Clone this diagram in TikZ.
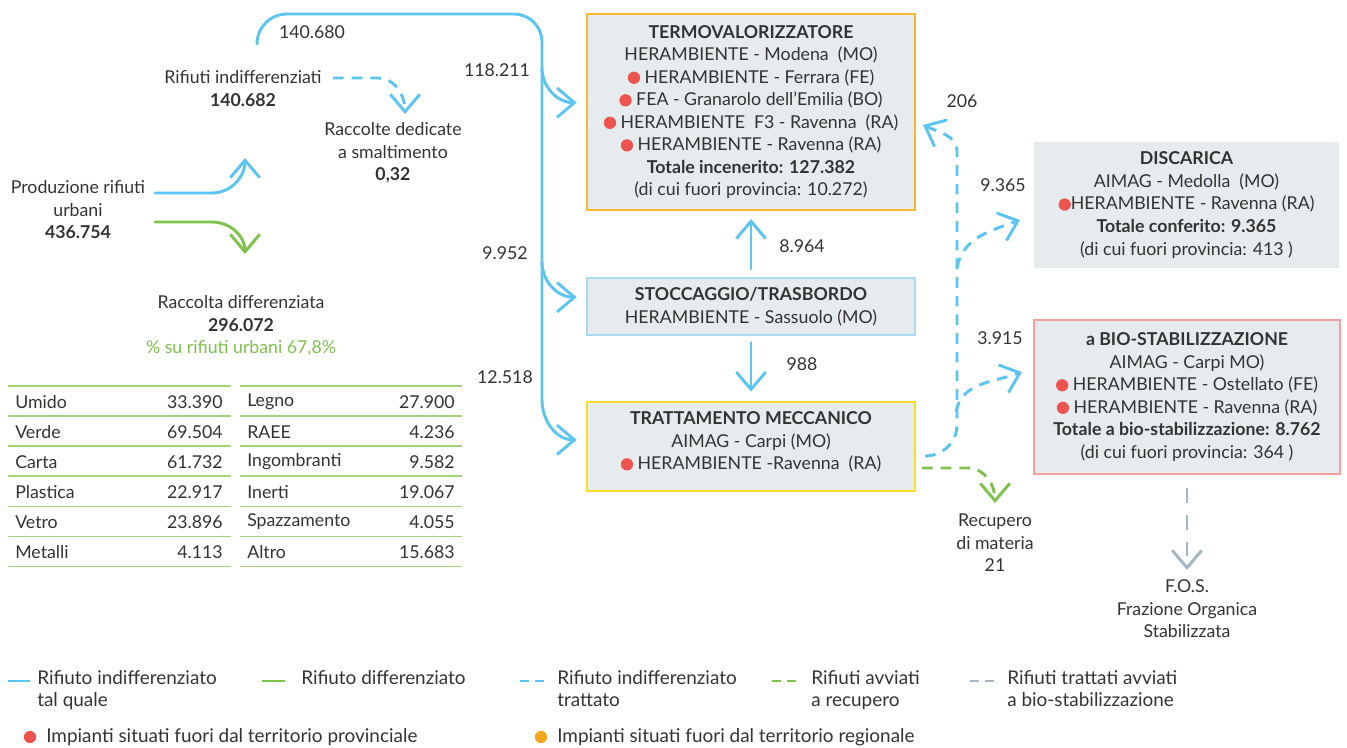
\documentclass[tikz,border=0pt]{standalone}
\usepackage{fontspec}
\setmainfont{Lato}
\usetikzlibrary{arrows.meta}
\definecolor{cblue}{HTML}{5BC5F2}
\definecolor{cgreen}{HTML}{7DC24B}
\definecolor{tgreen}{HTML}{A3D47A}
\definecolor{cgray}{HTML}{A3B6C0}
\definecolor{ink}{HTML}{333333}
\definecolor{boxfill}{HTML}{E6EBEE}
\definecolor{cred}{HTML}{EF5350}
\definecolor{corange}{HTML}{F2A81D}
\definecolor{bterm}{HTML}{F7B733}
\definecolor{bstoc}{HTML}{A8DAF2}
\definecolor{btrat}{HTML}{FDDC2A}
\definecolor{bbio}{HTML}{F4A09C}
\newcommand\fs{\fontsize{13.3}{16.9}\selectfont}
\newcommand\fsl{\fontsize{14.2}{16.9}\selectfont}
\newcommand\rdot{\tikz[baseline=-0.6ex]\fill[cred] (0,0) circle (4.6pt);}
\begin{document}
\begin{tikzpicture}[x=0.75pt,y=-0.75pt,font=\fs,text=ink,
  txt/.style={align=center,inner sep=0pt},
  box/.style={align=center,inner sep=0pt,fill=boxfill,line width=1.5pt},
  bl/.style={draw=cblue,line width=2.2pt,line cap=round},
  gl/.style={draw=cgreen,line width=2.2pt,line cap=round},
  bld/.style={draw=cblue,line width=2.2pt,dash pattern=on 8pt off 6pt},
  gld/.style={draw=cgreen,line width=2.2pt,dash pattern=on 8pt off 6pt},
  gyd/.style={draw=cgray,line width=2.2pt,dash pattern=on 11pt off 9pt},
  arr/.style={-{Straight Barb[length=13pt,width=22pt]}},
  tl/.style={draw=tgreen,line width=1.3pt},
  lg/.style={txt,align=left,anchor=north west,font=\fsl}]
\useasboundingbox (0,0) rectangle (1347,747);

% boxes
\node[box,draw=bterm,minimum width=246pt,minimum height=147pt] (termo) at (751,112)
 {\textbf{TERMOVALORIZZATORE}\\HERAMBIENTE - Modena~~(MO)\\\rdot~HERAMBIENTE - Ferrara (FE)\\\rdot~FEA - Granarolo dell’Emilia (BO)\\\rdot~HERAMBIENTE~~F3 - Ravenna~~(RA)\\\rdot~HERAMBIENTE - Ravenna (RA)\\\textbf{Totale incenerito: 127.382}\\(di cui fuori provincia: 10.272)};
\node[box,draw=bstoc,minimum width=246pt,minimum height=42.75pt] (stoc) at (751,306.5)
 {\textbf{STOCCAGGIO/TRASBORDO}\\HERAMBIENTE - Sassuolo (MO)};
\node[box,draw=btrat,minimum width=246pt,minimum height=66.75pt] (tratt) at (751,446.5) {};
\node[txt] (trattT) at (751,442)
 {\textbf{TRATTAMENTO MECCANICO}\\AIMAG - Carpi (MO)\\\rdot~HERAMBIENTE -Ravenna~~(RA)};
\node[box,minimum width=228.75pt,minimum height=94.5pt] (disc) at (1186.5,205)
 {\textbf{DISCARICA}\\AIMAG - Medolla~~(MO)\\\rdot HERAMBIENTE - Ravenna (RA)\\\textbf{Totale conferito: 9.365}\\(di cui fuori provincia: 413 )};
\node[box,draw=bbio,minimum width=229.5pt,minimum height=115.5pt] (bio) at (1187,397)
 {\textbf{a BIO-STABILIZZAZIONE}\\AIMAG - Carpi MO)\\\rdot~HERAMBIENTE - Ostellato (FE)\\\rdot~HERAMBIENTE - Ravenna (RA)\\\textbf{Totale a bio-stabilizzazione: 8.762}\\(di cui fuori provincia: 364 )};

% left texts
\node[txt] (prod) at (78,210) {Produzione rifiuti\\urbani\\\textbf{436.754}};
\node[txt] (rind) at (243,88.5) {Rifiuti indifferenziati\\\textbf{140.682}};
\node[txt] (racc) at (393,153) {Raccolte dedicate\\a smaltimento\\\textbf{0,32}};
\node[txt] (rdiff) at (241,326) {Raccolta differenziata\\\textbf{296.072}\\\textcolor{cgreen}{\% su rifiuti urbani 67,8\%}};
\node[txt] (rec) at (995,543) {Recupero\\di materia\\21};
\node[txt] (fos) at (1187,609) {F.O.S.\\Frazione Organica\\Stabilizzata};

% numbers
\node[txt] (n1) at (312,32) {140.680};
\node[txt] (n2) at (497,70) {118.211};
\node[txt] (n3) at (505,253) {9.952};
\node[txt] (n4) at (505,377) {12.518};
\node[txt] (n5) at (802,246) {8.964};
\node[txt] (n6) at (802,364) {988};
\node[txt] (n7) at (962,101) {206};
\node[txt] (n8) at (1003,185) {9.365};
\node[txt] (n9) at (1000,338) {3.915};

% coordinates
\coordinate (p0) at (257,44);
\coordinate (pb) at (155,193);
\coordinate (pg) at (155,222);
\coordinate (tb) at (245,158);
\coordinate (tg) at (245,254);
\coordinate (pd) at (333,78);
\coordinate (td) at (405,114);

% left arrows
\draw[bl,arr] (pb) -- (212,193) to[out=0,in=-90] (tb);
\draw[gl,arr] (pg) -- (212,222) to[out=0,in=90] (tg);
\draw[bld,arr] (pd) -- (378,78) to[out=0,in=90] (td);

% main blue path
\draw[bl,arr] (p0) to[out=90,in=180] (287,14) -- (514,14) to[out=0,in=90] (542,42) -- (542,400)
  to[out=-90,in=180] ([xshift=-7pt,yshift=5pt]tratt.west);
\draw[bl,arr] (542,68) to[out=-90,in=180] ([xshift=-7pt,yshift=7pt]termo.west);
\draw[bl,arr] (542,262) to[out=-90,in=180] ([xshift=-7pt,yshift=7pt]stoc.west);
\draw[bl,arr] ([yshift=6pt]stoc.north) -- ([yshift=-6pt]termo.south);
\draw[bl,arr] ([yshift=-5pt]stoc.south) -- ([yshift=7pt]tratt.north);

% right dashed
\coordinate (r0) at (925,456);
\draw[bld,arr] (r0) to[out=0,in=-90] (957,425) -- (957,152) to[out=90,in=-25] (923,125);
\draw[bld,arr] (957,268) to[out=80,in=200] (1020,220);
\draw[bld,arr] (956,412) to[out=80,in=200] (1022,372);
\coordinate (g0) at (922,468);
\draw[gld,arr] (g0) -- (968,468) to[out=0,in=90] (rec.north |- 0,503);
\draw[gyd,arr] ([yshift=-10pt]bio.south) -- (1187,570);

% table
\foreach \i/\a/\b/\c/\d in {0/Umido/33.390/Legno/27.900,1/Verde/69.504/RAEE/4.236,2/Carta/61.732/Ingombranti/9.582,3/Plastica/22.917/Inerti/19.067,4/Vetro/23.896/Spazzamento/4.055,5/Metalli/4.113/Altro/15.683}{
  \node[txt,anchor=west] (la\i) at (15,402+30*\i) {\a};
  \node[txt,anchor=east] (va\i) at (223,402+30*\i) {\b};
  \node[txt,anchor=west] (lb\i) at (247,402+30*\i) {\c};
  \node[txt,anchor=east] (vb\i) at (455,402+30*\i) {\d};
}
\foreach \i in {0,...,6}{
  \draw[tl] (8,386+30.1*\i) -- (231,386+30.1*\i);
  \draw[tl] (240,386+30.1*\i) -- (462,386+30.1*\i);
}

% legend
\draw[draw=cblue,line width=2.2pt] (8,681) -- (30,681);
\node[lg] (lg1) at (37,670) {Rifiuto indifferenziato\\tal quale};
\draw[draw=cgreen,line width=2.2pt] (262,681) -- (285,681);
\node[lg] (lg2) at (301,670) {Rifiuto differenziato};
\draw[draw=cblue,line width=2.2pt,dash pattern=on 7pt off 4pt] (520,681) -- (547,681);
\node[lg] (lg3) at (557,670) {Rifiuto indifferenziato\\trattato};
\draw[draw=cgreen,line width=2.2pt,dash pattern=on 7pt off 4pt] (772,681) -- (799,681);
\node[lg] (lg4) at (811,670) {Rifiuti avviati\\a recupero};
\draw[draw=cgray,line width=2.2pt,dash pattern=on 7pt off 4pt] (970,681) -- (997,681);
\node[lg] (lg5) at (1007,670) {Rifiuti trattati avviati\\a bio-stabilizzazione};
\fill[cred] (30,737) circle (4.6pt);
\node[txt,anchor=west,font=\fsl] (lg6) at (46,737) {Impianti situati fuori dal territorio provinciale};
\fill[corange] (541,737) circle (4.6pt);
\node[txt,anchor=west,font=\fsl] (lg7) at (557,737) {Impianti situati fuori dal territorio regionale};
\end{tikzpicture}
\end{document}
